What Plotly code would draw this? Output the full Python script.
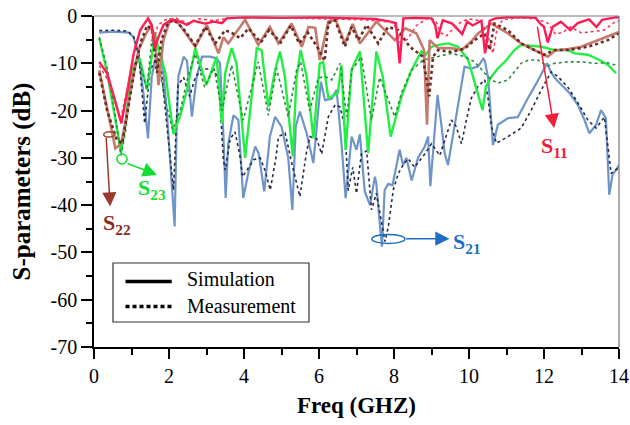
import plotly.graph_objects as go

# ---------------- data (frequency in GHz, magnitude in dB) ----------------
s11_sim_f = [0.14, 0.35, 0.53, 0.73, 0.88, 1.06, 1.23, 1.44, 1.54, 1.62, 1.72, 1.85, 2.08, 2.3, 2.48,
             2.65, 2.96, 3.19, 3.41, 3.54, 4.0, 5.0, 6.0, 7.0, 7.5, 7.9, 8.05, 8.15, 8.25, 8.6, 9.0,
             9.1, 9.16, 9.3, 9.55, 9.82, 9.95, 10.1, 10.33, 10.43, 10.55, 10.7, 11.0, 11.5, 11.78,
             11.9, 12.0, 12.1, 12.23, 12.45, 12.7, 12.9, 13.2, 13.4, 13.55, 13.9, 14.0]
s11_sim_db = [-9.7, -12.1, -17.0, -22.7, -16.3, -7.9, -3.0, -0.5, -1.9, -6.8, -4.4, -1.9, -0.7, -1.2, -1.9,
              -1.0, -1.6, -1.2, -1.5, -0.5, -0.3, -0.4, -0.3, -0.5, -0.6, -1.2, -1.5, -10.0, -0.5, -0.4, -0.5,
              -2.0, -4.7, -0.9, -1.6, -3.8, -1.2, -2.0, -1.0, -7.9, -1.0, -0.5, -0.3, -0.3, -0.4,
              -1.6, -2.3, -5.6, -2.3, -1.2, -3.0, -1.5, -0.7, -2.3, -0.8, -0.3, -0.3]

s11_meas_f = [0.14, 0.4, 0.7, 0.9, 1.1, 1.3, 1.45, 1.6, 1.7, 1.9, 2.2, 2.5, 2.8, 3.2, 3.6, 4.5, 5.5,
              6.5, 7.2, 7.8, 8.0, 8.15, 8.35, 8.6, 8.9, 9.1, 9.25, 9.4, 9.6, 9.8, 10.0, 10.3, 10.5,
              10.64, 10.75, 10.9, 11.3, 11.8, 12.1, 12.3, 12.5, 12.7, 13.0, 13.3, 13.6, 13.9, 14.0]
s11_meas_db = [-10.5, -14.0, -22.0, -15.0, -6.0, -2.0, -0.5, -5.0, -2.0, -0.8, -0.5, -1.5, -0.6, -1.0, -0.4,
               -0.3, -0.5, -0.6, -0.8, -1.2, -1.5, -5.5, -5.0, -2.0, -0.5, -0.8, -3.6, -4.2, -2.5, -1.2,
               -0.6, -1.0, -4.0, -7.9, -2.5, -0.8, -0.4, -0.6, -1.5, -3.8, -3.5, -2.3, -3.6, -3.3,
               -3.0, -1.2, -1.0]

s22_sim_f = [0.14, 0.33, 0.57, 0.72, 0.85, 1.01, 1.19, 1.37, 1.5, 1.62, 1.72, 1.85, 2.03, 2.25, 2.45,
             2.7, 3.01, 3.32, 3.45, 3.58, 4.03, 4.38, 4.69, 4.92, 5.27, 5.54, 5.72, 5.9, 6.02, 6.25,
             6.45, 6.69, 6.9, 7.09, 7.53, 8.02, 8.3, 8.6, 8.8, 8.88, 8.95, 9.18, 9.53, 9.8, 10.06,
             10.24, 10.6, 11.04, 11.39, 11.75, 12.1, 12.3, 12.65, 12.99, 13.35, 13.7, 14.0]
s22_sim_db = [-11.4, -19.0, -28.0, -27.0, -22.0, -14.2, -7.2, -4.0, -2.3, -4.0, -14.6, -5.1, -0.8, -1.5, -3.7,
              -6.5, -1.9, -7.9, -4.5, -5.8, -0.8, -6.1, -2.3, -5.8, -1.6, -6.5, -2.3, -2.5, -9.3, -1.2,
              -0.9, -5.8, -1.7, -5.8, -1.2, -5.1, -2.6, -3.7, -7.2, -23.0, -5.1, -6.8, -6.8, -7.2, -5.4,
              -3.7, -1.6, -3.7, -5.8, -7.2, -8.6, -7.3, -7.0, -6.5, -5.4, -4.4, -3.4]

s22_meas_f = [0.14, 0.35, 0.6, 0.75, 0.9, 1.1, 1.27, 1.42, 1.55, 1.68, 1.8, 1.97, 2.14, 2.4, 2.7,
              2.97, 3.23, 3.5, 3.7, 3.9, 4.12, 4.45, 4.67, 4.98, 5.25, 5.47, 5.7, 5.95, 6.15, 6.25,
              6.43, 6.69, 6.87, 7.05, 7.27, 7.58, 7.84, 8.11, 8.42, 8.77, 8.94, 9.04, 9.18, 9.53,
              9.89, 10.15, 10.42, 10.55, 10.68, 11.04, 11.39, 11.75, 12.0, 12.28, 12.64, 12.99,
              13.35, 13.7, 14.0]
s22_meas_db = [-12.0, -20.0, -26.0, -27.0, -20.0, -10.5, -5.0, -2.0, -3.0, -12.0, -5.0, -1.5, -0.8, -2.9,
               -6.2, -2.3, -5.8, -3.0, -3.7, -4.7, -2.6, -5.6, -3.0, -5.6, -2.0, -5.8, -3.5, -6.5, -9.5,
               -1.5, -0.9, -6.5, -2.3, -5.1, -1.9, -5.8, -2.3, -3.0, -6.5, -8.6, -17.0, -8.6, -7.2,
               -7.6, -6.9, -5.1, -3.7, -7.2, -1.6, -3.0, -5.8, -7.2, -8.2, -7.2, -7.2, -6.8, -6.1,
               -5.1, -3.7]

s23_sim_f = [0.14, 0.35, 0.55, 0.72, 0.85, 0.97, 1.1, 1.23, 1.41, 1.63, 1.72, 1.9, 2.12, 2.3, 2.48,
             2.7, 3.0, 3.27, 3.41, 3.5, 3.67, 3.8, 4.03, 4.16, 4.34, 4.47, 4.65, 4.83, 4.96, 5.09,
             5.3, 5.4, 5.51, 5.67, 5.85, 6.02, 6.11, 6.25, 6.5, 6.6, 6.71, 6.87, 7.09, 7.31, 7.53,
             7.7, 7.91, 8.2, 8.47, 8.73, 8.84, 9.0, 9.18, 9.45, 9.71, 9.98, 10.24, 10.36, 10.45,
             10.6, 10.77, 11.0, 11.21, 11.39, 11.93, 12.28, 12.64, 12.82, 13.17, 13.48, 13.7, 13.92]
s23_sim_db = [-4.7, -12.0, -21.0, -29.0, -22.0, -12.8, -10.0, -9.3, -15.6, -3.7, -7.0, -12.0, -25.0, -21.0,
              -15.6, -6.8, -14.6, -8.6, -22.7, -12.0, -6.8, -10.0, -30.0, -20.0, -6.8, -7.2, -19.2,
              -11.4, -7.5, -12.8, -29.7, -13.0, -7.2, -12.8, -25.9, -10.0, -9.7, -17.4, -16.3, -10.4,
              -28.3, -11.3, -7.5, -29.0, -7.5, -12.8, -25.5, -17.0, -11.4, -7.5, -8.2, -6.5, -6.1,
              -5.8, -6.5, -9.3, -16.3, -19.9, -15.0, -12.8, -11.1, -9.3, -7.2, -6.1, -6.5, -7.2, -7.2,
              -7.9, -8.2, -9.3, -10.3, -12.1]

s23_meas_f = [0.14, 0.35, 0.55, 0.72, 0.85, 0.97, 1.1, 1.23, 1.41, 1.54, 1.7, 1.9, 2.1, 2.3, 2.5, 2.7,
              2.95, 3.2, 3.41, 3.67, 3.98, 4.38, 4.65, 4.87, 5.18, 5.4, 5.51, 5.75, 5.98, 6.16, 6.34,
              6.56, 6.74, 6.87, 7.13, 7.4, 7.62, 8.02, 8.2, 8.47, 8.78, 9.18, 9.53, 9.89, 10.15,
              10.42, 10.6, 10.77, 11.04, 11.39, 11.6, 11.84, 12.1, 12.28, 12.64, 12.99, 13.35, 13.7,
              13.92]
s23_meas_db = [-4.5, -11.0, -20.0, -29.5, -24.0, -15.0, -10.4, -10.0, -15.6, -5.0, -9.0, -18.0, -24.0,
               -20.0, -13.0, -8.0, -15.0, -11.0, -20.0, -10.4, -22.0, -9.7, -21.0, -11.1, -21.3, -11.5,
               -9.7, -20.0, -13.1, -12.8, -13.5, -10.0, -21.3, -11.5, -8.6, -22.0, -13.0, -21.3, -16.3,
               -11.4, -9.3, -8.6, -7.9, -8.6, -9.7, -12.1, -13.5, -14.2, -13.5, -10.0, -9.3, -9.3,
               -10.6, -10.0, -9.7, -9.7, -10.0, -9.9, -10.4]

s21_sim_f = [0.14, 0.5, 0.92, 1.05, 1.19, 1.32, 1.44, 1.54, 1.67, 1.81, 1.94, 2.08, 2.15, 2.2, 2.25,
             2.39, 2.48, 2.61, 2.74, 2.88, 3.1, 3.27, 3.36, 3.45, 3.51, 3.58, 3.72, 3.85, 3.98, 4.12,
             4.3, 4.39, 4.54, 4.69, 4.83, 5.0, 5.18, 5.29, 5.38, 5.49, 5.67, 5.85, 5.98, 6.05, 6.16,
             6.34, 6.47, 6.6, 6.71, 6.87, 7.0, 7.09, 7.22, 7.36, 7.49, 7.53, 7.62, 7.68, 7.75, 7.85,
             7.96, 8.15, 8.24, 8.33, 8.47, 8.64, 8.82, 8.91, 8.97, 9.04, 9.16, 9.27, 9.35, 9.44,
             9.58, 9.71, 9.88, 10.06, 10.24, 10.38, 10.42, 10.51, 10.64, 10.77, 11.04, 11.3, 11.44,
             11.57, 11.8, 12.0, 12.08, 12.2, 12.33, 12.68, 12.9, 13.08, 13.21, 13.39, 13.52, 13.65,
             13.74, 13.83, 13.92, 14.0]
s21_sim_db = [-3.5, -3.3, -3.5, -4.4, -8.0, -16.5, -25.9, -12.8, -8.0, -8.6, -20.0, -35.0, -44.5, -25.0,
              -12.8, -8.6, -9.5, -21.3, -12.8, -8.6, -8.6, -9.0, -10.0, -25.0, -38.5, -27.0, -21.0,
              -22.0, -38.5, -33.0, -27.6, -29.0, -37.1, -25.5, -21.3, -23.4, -30.0, -41.0, -23.4, -20.2,
              -24.8, -31.1, -20.0, -13.9, -17.8, -17.5, -15.6, -27.0, -38.5, -25.5, -28.3, -25.0, -37.1,
              -40.0, -34.0, -35.5, -43.8, -48.8, -36.8, -35.5, -35.8, -28.3, -31.5, -30.0, -34.8, -30.0,
              -27.6, -25.5, -36.0, -29.0, -16.7, -23.4, -29.0, -31.5, -25.0, -18.5, -10.7, -11.1, -10.7,
              -9.0, -9.4, -13.1, -27.3, -23.0, -21.6, -21.4, -19.2, -17.4, -14.2, -11.4, -10.0, -12.1,
              -13.5, -16.3, -18.8, -22.0, -24.8, -23.0, -19.9, -21.6, -37.8, -33.5, -32.6, -31.5]

s21_meas_f = [0.14, 0.5, 0.9, 1.06, 1.2, 1.35, 1.5, 1.65, 1.8, 1.95, 2.12, 2.24, 2.39, 2.55, 2.7, 2.88,
              3.14, 3.32, 3.45, 3.5, 3.63, 3.76, 3.89, 3.96, 4.26, 4.43, 4.56, 4.7, 4.85, 4.92, 5.1,
              5.27, 5.49, 5.67, 5.76, 5.94, 6.07, 6.25, 6.43, 6.56, 6.69, 6.78, 6.9, 7.0, 7.13, 7.27,
              7.4, 7.53, 7.67, 7.76, 7.85, 7.98, 8.11, 8.24, 8.38, 8.55, 8.69, 8.82, 9.0, 9.22, 9.35,
              9.53, 9.66, 9.8, 9.93, 10.06, 10.24, 10.42, 10.51, 10.6, 10.73, 11.04, 11.39, 11.66,
              11.93, 12.19, 12.37, 12.64, 12.9, 13.17, 13.39, 13.61, 13.79, 13.92, 14.0]
s21_meas_db = [-3.1, -3.0, -3.2, -4.4, -8.5, -22.7, -11.5, -9.0, -12.0, -24.0, -36.8, -14.6, -13.0, -17.0,
               -13.0, -11.2, -11.2, -13.0, -30.4, -32.6, -26.0, -24.5, -29.5, -34.0, -30.4, -30.0,
               -32.6, -36.8, -30.0, -25.5, -24.8, -31.0, -38.2, -28.6, -25.5, -26.0, -29.2, -21.3,
               -18.8, -19.2, -23.4, -36.9, -32.0, -37.5, -29.2, -28.5, -41.0, -37.5, -43.8, -47.7,
               -44.5, -36.8, -33.4, -31.5, -30.2, -32.0, -30.5, -29.2, -27.0, -29.5, -26.4, -22.0,
               -23.4, -27.0, -22.0, -17.4, -14.9, -13.5, -17.5, -23.4, -26.9, -25.5, -23.7, -19.9,
               -15.6, -11.8, -12.8, -15.1, -18.3, -22.0, -23.7, -21.4, -33.3, -32.6, -32.0]

x_ticks = [0, 2, 4, 6, 8, 10, 12, 14]
y_ticks = [0, -10, -20, -30, -40, -50, -60, -70]

SERIF = "Liberation Serif, Times New Roman, serif"

fig = go.Figure()

traces = [
    (s21_sim_f, s21_sim_db, "#6f95c8", 2.2, "solid"),
    (s21_meas_f, s21_meas_db, "#252a48", 1.6, "dot"),
    (s23_sim_f, s23_sim_db, "#22ee44", 2.4, "solid"),
    (s23_meas_f, s23_meas_db, "#2e8b3e", 1.6, "dot"),
    (s22_sim_f, s22_sim_db, "#c47a6c", 2.6, "solid"),
    (s22_meas_f, s22_meas_db, "#6b2b22", 2.6, "dot"),
    (s11_sim_f, s11_sim_db, "#ff1a55", 2.4, "solid"),
    (s11_meas_f, s11_meas_db, "#ff3050", 1.5, "dot"),
]
for fx, fy, col, w, dash in traces:
    fig.add_trace(go.Scatter(x=fx, y=fy, mode="lines",
                             line=dict(color=col, width=w, dash=dash),
                             showlegend=False, hoverinfo="skip"))

# plot frame: top and right edges
fig.add_shape(type="line", xref="paper", yref="paper", x0=0, x1=1, y0=1, y1=1,
              line=dict(color="#777777", width=1.2))
fig.add_shape(type="line", xref="paper", yref="paper", x0=1, x1=1, y0=0, y1=1,
              line=dict(color="#777777", width=1.2))

# legend box
fig.add_shape(type="rect", xref="paper", yref="paper", x0=0.0362, x1=0.4095, y0=0.0755, y1=0.2538,
              line=dict(color="#333333", width=1.2), fillcolor="white")
fig.add_shape(type="line", xref="paper", yref="paper", x0=0.060, x1=0.148, y0=0.198, y1=0.198,
              line=dict(color="black", width=3.5))
fig.add_shape(type="line", xref="paper", yref="paper", x0=0.060, x1=0.148, y0=0.122, y1=0.122,
              line=dict(color="black", width=3.5, dash="4px,3px"))
fig.add_annotation(xref="paper", yref="paper", x=0.173, y=0.205, text="Simulation",
                   showarrow=False, xanchor="left", yanchor="middle",
                   font=dict(family=SERIF, size=20, color="black"))
fig.add_annotation(xref="paper", yref="paper", x=0.173, y=0.125, text="Measurement",
                   showarrow=False, xanchor="left", yanchor="middle",
                   font=dict(family=SERIF, size=20, color="black"))

# S11 marker arrow and label
C11 = "#f0203a"
fig.add_annotation(x=12.27, y=-23.7, ax=-17, ay=-103, text="", showarrow=True,
                   arrowhead=2, arrowsize=1.9, arrowwidth=1.5, arrowcolor=C11)
fig.add_annotation(x=12.27, y=-27.6, text="<b>S<sub>11</sub></b>", showarrow=False,
                   font=dict(family=SERIF, size=22, color=C11))

# S21 marker
C21 = "#1e6fc4"
fig.add_shape(type="circle", x0=7.41, x1=8.29, y0=-48.1, y1=-46.2, line=dict(color=C21, width=1.5))
fig.add_annotation(x=9.48, y=-47.1, ax=-45, ay=0, text="", showarrow=True,
                   arrowhead=2, arrowsize=1.9, arrowwidth=1.5, arrowcolor=C21)
fig.add_annotation(x=9.53, y=-48.0, text="<b>S<sub>21</sub></b>", showarrow=False, xanchor="left",
                   font=dict(family=SERIF, size=22, color=C21))

# S23 marker
C23 = "#12dd30"
fig.add_shape(type="circle", x0=0.61, x1=0.88, y0=-31.3, y1=-29.2, line=dict(color=C23, width=1.5))
fig.add_annotation(x=1.68, y=-33.6, ax=-31, ay=-12, text="", showarrow=True,
                   arrowhead=2, arrowsize=1.9, arrowwidth=1.5, arrowcolor=C23)
fig.add_annotation(x=1.54, y=-36.6, text="<b>S<sub>23</sub></b>", showarrow=False,
                   font=dict(family=SERIF, size=22, color=C23))

# S22 marker
C22 = "#8a2c20"
fig.add_shape(type="circle", x0=0.26, x1=0.56, y0=-25.6, y1=-24.5, line=dict(color="#a0483a", width=1.5))
fig.add_annotation(x=0.43, y=-40.3, ax=-4, ay=-70, text="", showarrow=True,
                   arrowhead=2, arrowsize=1.9, arrowwidth=1.5, arrowcolor="#9b3a2c")
fig.add_annotation(x=0.61, y=-44.0, text="<b>S<sub>22</sub></b>", showarrow=False,
                   font=dict(family=SERIF, size=22, color=C22))

fig.update_xaxes(range=[0, 14], tickvals=x_ticks, ticktext=[str(v) for v in x_ticks],
                 automargin=False,
                 showgrid=False, zeroline=False, showline=True, linecolor="black", linewidth=1.5,
                 ticks="outside", ticklen=10, tickwidth=1.5, tickcolor="black",
                 minor=dict(ticks="outside", dtick=1, ticklen=6, tickwidth=1.5, tickcolor="black"),
                 tickfont=dict(family=SERIF, size=20, color="black"),
                 title=dict(text="<b>Freq (GHZ)</b>", font=dict(family=SERIF, size=23, color="black"),
                            standoff=11))
fig.update_yaxes(range=[-70, 0], tickvals=y_ticks, ticktext=[str(v) for v in y_ticks],
                 automargin=False,
                 showgrid=False, zeroline=False, showline=True, linecolor="black", linewidth=1.5,
                 ticks="outside", ticklen=11, tickwidth=1.5, tickcolor="black",
                 minor=dict(ticks="outside", dtick=5, ticklen=6, tickwidth=1.5, tickcolor="black"),
                 tickfont=dict(family=SERIF, size=20, color="black"),
                 title=dict(text="<b>S-parameters (dB)</b>", font=dict(family=SERIF, size=25, color="black"),
                            standoff=13))

fig.update_layout(width=630, height=425, margin=dict(l=94, r=11, t=16, b=78),
                  paper_bgcolor="white", plot_bgcolor="white", showlegend=False)

fig.write_html("out.html")
